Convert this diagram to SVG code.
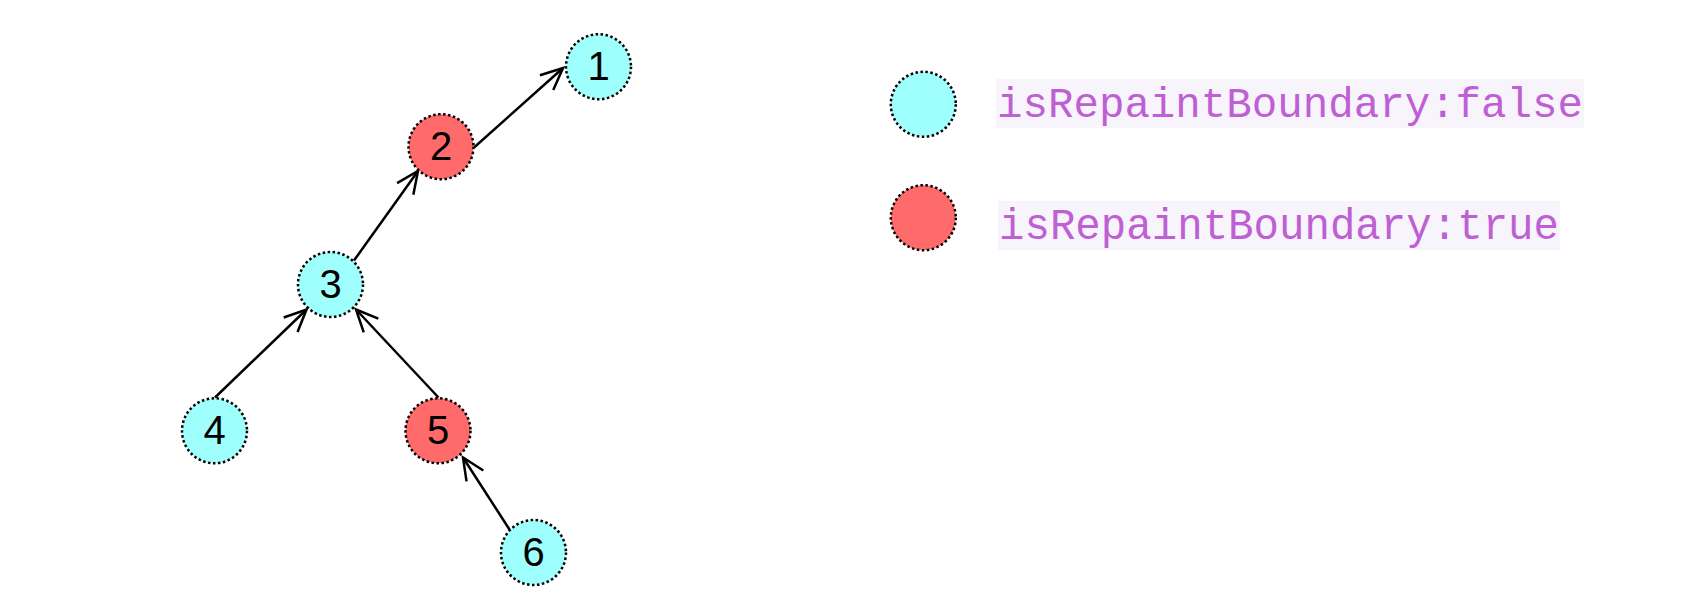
<svg xmlns="http://www.w3.org/2000/svg" width="1690" height="608" viewBox="0 0 1690 608">
<style>
.node{stroke:#000;stroke-width:2.5;stroke-dasharray:2.5 2.5}
.cyan{fill:#9efffc}
.red{fill:#ff6a6a}
.num{font-family:"Liberation Sans",Arial,sans-serif;font-size:40px;fill:#000;text-anchor:middle}
.edge{stroke:#000;stroke-width:2.5;fill:none;marker-end:url(#arr)}
.lbl{font-family:"Liberation Mono","Courier New",monospace;fill:#be60d4}
.lblbg{fill:#f7f5fb}
</style>
<defs>
<marker id="arr" markerUnits="userSpaceOnUse" orient="auto" refX="0" refY="0" markerWidth="40" markerHeight="40" viewBox="-30 -20 40 40" overflow="visible">
<path d="M-22,-10 L0,0 L-22,10" fill="none" stroke="#000" stroke-width="2.5"/>
</marker>
</defs>
<rect width="1690" height="608" fill="#fff"/>
<g id="connectors">
<line class="edge" x1="474" y1="147.5" x2="563" y2="68"/>
<line class="edge" x1="354" y1="260.5" x2="418" y2="171"/>
<line class="edge" x1="215" y1="397.5" x2="306.5" y2="309.5"/>
<line class="edge" x1="438.5" y1="397.5" x2="356" y2="309.5"/>
<line class="edge" x1="509.5" y1="529.5" x2="463" y2="457.5"/>
</g>
<g id="node1"><circle class="node cyan" cx="598.5" cy="66.7" r="32.5"/><text class="num" x="598.5" y="80">1</text></g>
<g id="node2"><circle class="node red" cx="441" cy="146.7" r="32.5"/><text class="num" x="441" y="160">2</text></g>
<g id="node3"><circle class="node cyan" cx="330.5" cy="284.5" r="32.5"/><text class="num" x="330.5" y="298">3</text></g>
<g id="node4"><circle class="node cyan" cx="214.5" cy="430.8" r="32.5"/><text class="num" x="214.5" y="444">4</text></g>
<g id="node5"><circle class="node red" cx="438" cy="430.8" r="32.5"/><text class="num" x="438" y="444">5</text></g>
<g id="node6"><circle class="node cyan" cx="533.5" cy="552.5" r="32.5"/><text class="num" x="533.5" y="566">6</text></g>
<g id="legend-false">
<circle class="node cyan" cx="923.3" cy="104.3" r="32.5"/>
<rect class="lblbg" x="996" y="79" width="588" height="49"/>
<text class="lbl" x="997" y="116.7" font-size="42.5" textLength="586" lengthAdjust="spacingAndGlyphs">isRepaintBoundary:false</text>
</g>
<g id="legend-true">
<circle class="node red" cx="923.3" cy="217.7" r="32.5"/>
<rect class="lblbg" x="998" y="201" width="562" height="49"/>
<text class="lbl" x="999" y="239" font-size="44.5" textLength="560" lengthAdjust="spacingAndGlyphs">isRepaintBoundary:true</text>
</g>
</svg>
